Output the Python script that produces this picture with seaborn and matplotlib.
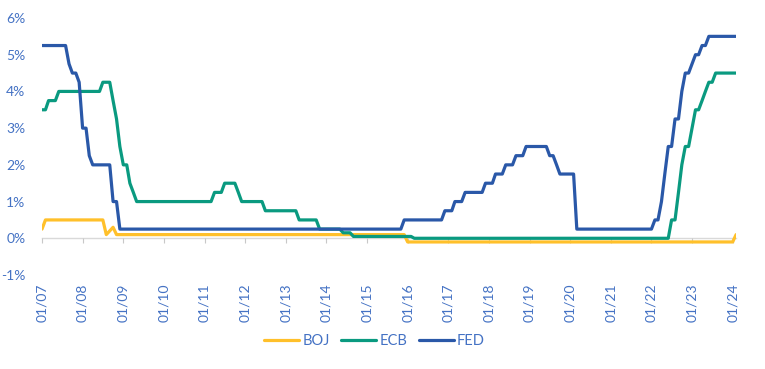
import matplotlib
matplotlib.use("Agg")
import matplotlib.pyplot as plt
import matplotlib.dates as mdates
import pandas as pd
import seaborn as sns

# ---- data: vertices of each policy-rate line (month, rate in %) ----
boj_months = ["2007-01", "2007-02", "2008-07", "2008-08", "2008-10", "2008-11",
              "2015-12", "2016-01", "2024-01", "2024-02"]
boj_rates = [0.25, 0.5, 0.5, 0.1, 0.3, 0.1, 0.1, -0.1, -0.1, 0.1]

ecb_months = ["2007-01", "2007-02", "2007-03", "2007-05", "2007-06", "2008-06", "2008-07",
              "2008-09", "2008-10", "2008-11", "2008-12", "2009-01", "2009-02", "2009-03",
              "2009-04", "2009-05", "2011-03", "2011-04", "2011-06", "2011-07", "2011-10",
              "2011-11", "2011-12", "2012-06", "2012-07", "2013-04", "2013-05", "2013-10",
              "2013-11", "2014-05", "2014-06", "2014-08", "2014-09", "2016-02", "2016-03",
              "2022-06", "2022-07", "2022-08", "2022-09", "2022-10", "2022-11", "2022-12",
              "2023-01", "2023-02", "2023-03", "2023-04", "2023-05", "2023-06", "2023-07",
              "2023-08", "2024-02"]
ecb_rates = [3.5, 3.5, 3.75, 3.75, 4.0, 4.0, 4.25,
             4.25, 3.75, 3.25, 2.5, 2.0, 2.0, 1.5,
             1.25, 1.0, 1.0, 1.25, 1.25, 1.5, 1.5,
             1.25, 1.0, 1.0, 0.75, 0.75, 0.5, 0.5,
             0.25, 0.25, 0.15, 0.15, 0.05, 0.05, 0.0,
             0.0, 0.5, 0.5, 1.25, 2.0, 2.5, 2.5,
             3.0, 3.5, 3.5, 3.75, 4.0, 4.25, 4.25,
             4.5, 4.5]

fed_months = ["2007-01", "2007-08", "2007-09", "2007-10", "2007-11", "2007-12", "2008-01",
              "2008-02", "2008-03", "2008-04", "2008-09", "2008-10", "2008-11", "2008-12",
              "2015-11", "2015-12", "2016-11", "2016-12", "2017-02", "2017-03", "2017-05",
              "2017-06", "2017-11", "2017-12", "2018-02", "2018-03", "2018-05", "2018-06",
              "2018-08", "2018-09", "2018-11", "2018-12", "2019-06", "2019-07", "2019-08",
              "2019-09", "2019-10", "2020-02", "2020-03", "2022-01", "2022-02", "2022-03",
              "2022-04", "2022-05", "2022-06", "2022-07", "2022-08", "2022-09", "2022-10",
              "2022-11", "2022-12", "2023-01", "2023-02", "2023-03", "2023-04", "2023-05",
              "2023-06", "2024-02"]
fed_rates = [5.25, 5.25, 4.75, 4.5, 4.5, 4.25, 3.0,
             3.0, 2.25, 2.0, 2.0, 1.0, 1.0, 0.25,
             0.25, 0.5, 0.5, 0.75, 0.75, 1.0, 1.0,
             1.25, 1.25, 1.5, 1.5, 1.75, 1.75, 2.0,
             2.0, 2.25, 2.25, 2.5, 2.5, 2.25, 2.25,
             2.0, 1.75, 1.75, 0.25, 0.25, 0.5, 0.5,
             1.0, 1.75, 2.5, 2.5, 3.25, 3.25, 4.0,
             4.5, 4.5, 4.75, 5.0, 5.0, 5.25, 5.25,
             5.5, 5.5]

series = ["BOJ", "ECB", "FED"]
y_ticks = [-1, 0, 1, 2, 3, 4, 5, 6]
colors = {"BOJ": "#FFC02A", "ECB": "#0A9A80", "FED": "#2A58A8"}
text_blue = "#4472C4"

frames = []
for name, months, rates in [("BOJ", boj_months, boj_rates),
                            ("ECB", ecb_months, ecb_rates),
                            ("FED", fed_months, fed_rates)]:
    frames.append(pd.DataFrame({"date": pd.to_datetime(months), "rate": rates, "bank": name}))
df = pd.concat(frames, ignore_index=True)

sns.set_theme(style="white")
plt.rcParams["font.family"] = ["Lato", "DejaVu Sans"]

fig = plt.figure(figsize=(7.65, 3.69), dpi=100)
ax = fig.add_axes([42 / 765, 1 - 275 / 369, (736.1 - 42) / 765, (275 - 18) / 369])

sns.lineplot(data=df, x="date", y="rate", hue="bank", hue_order=series,
             palette=colors, linewidth=2.3, estimator=None, sort=False, ax=ax)

ax.set_xlim(pd.Timestamp("2007-01-01"), pd.Timestamp("2024-02-01"))
ax.set_ylim(-1, 6)
ax.set_yticks(y_ticks)
ax.set_yticklabels([f"{v}%" for v in y_ticks])
ax.xaxis.set_major_locator(mdates.YearLocator())
ax.xaxis.set_major_formatter(mdates.DateFormatter("%m/%y"))
ax.set_xlabel("")
ax.set_ylabel("")

for s in ["top", "right", "left"]:
    ax.spines[s].set_visible(False)
ax.spines["bottom"].set_position(("data", 0))
ax.spines["bottom"].set_color("#D9D9D9")
ax.spines["bottom"].set_linewidth(1.0)
ax.spines["bottom"].set_zorder(0)

ax.tick_params(axis="y", length=0, pad=12, labelcolor=text_blue, labelsize=10)
ax.tick_params(axis="x", bottom=True, direction="out", length=3.5, width=0.8,
               color="#C8C8C8", pad=29, labelrotation=90, labelcolor=text_blue,
               labelsize=10)

handles, labels = ax.get_legend_handles_labels()
ax.legend(handles, labels, loc="center", bbox_to_anchor=(374.5 / 765, 1 - 341 / 369),
          bbox_transform=fig.transFigure, ncol=3, frameon=False, fontsize=10.5,
          handlelength=2.4, handletextpad=0.2, columnspacing=0.8, labelcolor=text_blue)
for line in ax.get_legend().get_lines():
    line.set_linewidth(2.3)

fig.savefig("out.png", dpi=100, facecolor="white")
